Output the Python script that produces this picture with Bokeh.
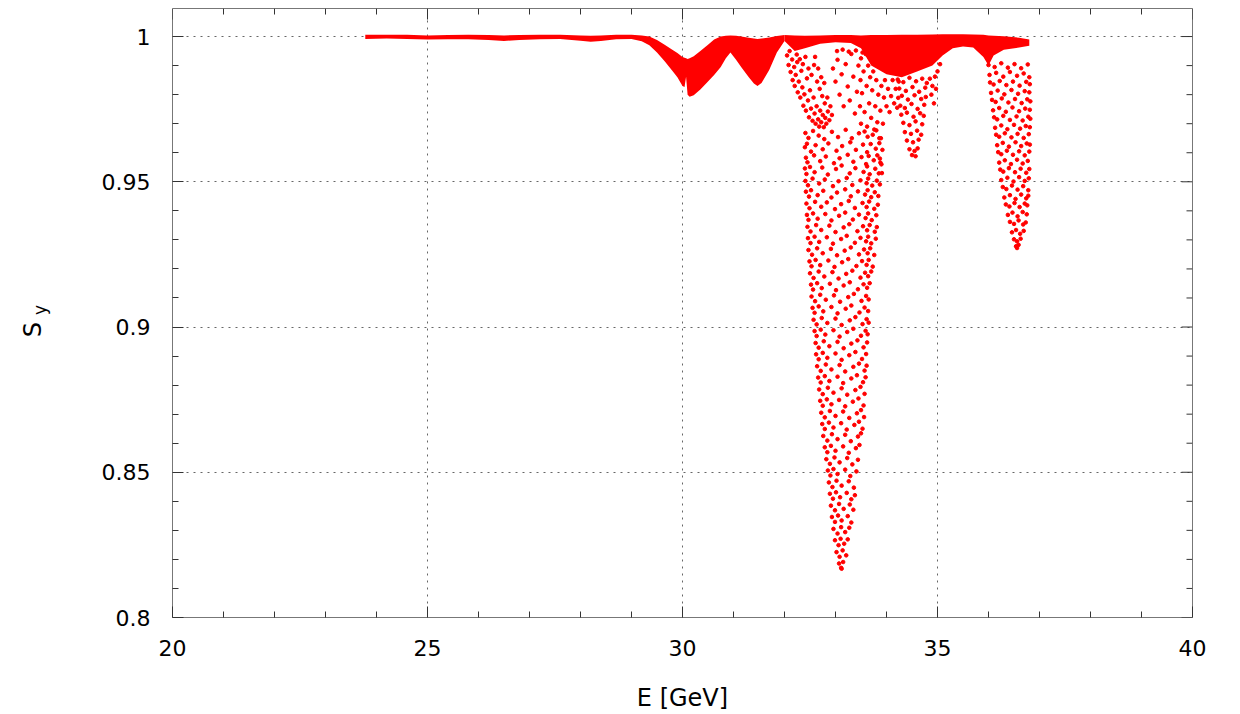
import math
from bokeh.plotting import figure
from bokeh.models import Range1d, FixedTicker, LinearAxis
from bokeh.embed import file_html
from bokeh.resources import INLINE

# ---------------- data ----------------
x_ticks = [20, 25, 30, 35, 40]
x_minor = [21, 22, 23, 24, 26, 27, 28, 29, 31, 32, 33, 34, 36, 37, 38, 39]
y_ticks = [0.8, 0.85, 0.9, 0.95, 1.0]
y_tick_labels = ["0.8", "0.85", "0.9", "0.95", "1"]
y_minor = [0.81, 0.82, 0.83, 0.84, 0.86, 0.87, 0.88, 0.89, 0.91, 0.92, 0.93, 0.94,
           0.96, 0.97, 0.98, 0.99]
x_title = "E [GeV]"
y_title_main, y_title_sub = "S", "y"

# densely filled band (upper / lower envelope), 23.8 - 32 GeV
band_E = [23.78, 24.2, 24.6, 25.0, 25.4, 25.8, 26.2, 26.5, 26.8, 27.2, 27.6, 28.0, 28.2,
          28.4, 28.7, 29.0, 29.2, 29.35, 29.5, 29.65, 29.8, 29.9, 30.0, 30.04, 30.07,
          30.1, 30.14, 30.22, 30.35, 30.5, 30.62, 30.75, 30.85, 30.94, 31.05, 31.15,
          31.3, 31.4, 31.47, 31.55, 31.7, 31.85, 32.0]
band_hi = [1.0006, 1.0006, 1.0006, 1.0004, 1.0005, 1.0006, 1.0005, 1.0004, 1.0005, 1.0006,
           1.0006, 1.0004, 1.0003, 1.0004, 1.0006, 1.0006, 1.0004, 1.0000, 0.9988, 0.9972,
           0.9955, 0.9943, 0.9930, 0.9927, 0.9925, 0.9923, 0.9925, 0.9932, 0.9950, 0.9972,
           0.9990, 1.0000, 1.0003, 1.0004, 1.0003, 1.0000, 0.9996, 0.9993, 0.9992, 0.9993,
           0.9997, 1.0002, 1.0005]
band_lo = [0.9992, 0.9993, 0.9992, 0.9990, 0.9991, 0.9991, 0.9988, 0.9985, 0.9988, 0.9991,
           0.9992, 0.9986, 0.9982, 0.9985, 0.9991, 0.9992, 0.9984, 0.9970, 0.9945, 0.9915,
           0.9882, 0.9860, 0.9830, 0.9826, 0.9862, 0.9800, 0.9793, 0.9798, 0.9818, 0.9845,
           0.9868, 0.9895, 0.9925, 0.9945, 0.9920, 0.9895, 0.9860, 0.9838, 0.9830, 0.9840,
           0.9885, 0.9945, 0.9985]

# densely filled band near S=1, 32 - 36.8 GeV
top_E = [32.0, 32.2, 32.4, 32.7, 33.0, 33.3, 33.5, 33.7, 34.0, 34.3, 34.6, 34.9, 35.1,
         35.3, 35.5, 35.7, 35.9, 36.0, 36.1, 36.3, 36.6, 36.8]
top_hi = [1.0005, 1.0004, 1.0003, 1.0004, 1.0005, 1.0005, 1.0004, 1.0005, 1.0005, 1.0006,
          1.0006, 1.0007, 1.0008, 1.0008, 1.0008, 1.0007, 1.0006, 1.0004, 1.0003, 1.0001,
          0.9996, 0.9990]
top_lo = [0.9985, 0.9950, 0.9960, 0.9975, 0.9980, 0.9978, 0.9960, 0.9900, 0.9870, 0.9860,
          0.9880, 0.9900, 0.9935, 0.9960, 0.9966, 0.9962, 0.9930, 0.9900, 0.9935, 0.9955,
          0.9962, 0.9968]

# scattered points: lobe at 32.0 - 32.9 GeV
lobe_pts = [(32.05, 0.9935), (32.08, 0.9902), (32.10, 0.9950), (32.12, 0.9878), (32.15, 0.9921),
            (32.16, 0.9850), (32.19, 0.9895), (32.20, 0.9830), (32.22, 0.9868), (32.25, 0.9912),
            (32.26, 0.9808), (32.28, 0.9845), (32.31, 0.9790), (32.33, 0.9882), (32.35, 0.9825),
            (32.37, 0.9762), (32.39, 0.9801), (32.42, 0.9745), (32.44, 0.9856), (32.46, 0.9780),
            (32.48, 0.9722), (32.50, 0.9815), (32.52, 0.9752), (32.55, 0.9710), (32.57, 0.9790),
            (32.59, 0.9735), (32.61, 0.9700), (32.63, 0.9760), (32.66, 0.9715), (32.68, 0.9690),
            (32.70, 0.9745), (32.72, 0.9705), (32.75, 0.9730), (32.77, 0.9688), (32.80, 0.9720),
            (32.82, 0.9700), (32.85, 0.9742), (32.88, 0.9712), (32.90, 0.9760), (32.93, 0.9730),
            (32.24, 0.9938), (32.30, 0.9922), (32.36, 0.9905), (32.41, 0.9930), (32.47, 0.9890),
            (32.53, 0.9868), (32.58, 0.9902), (32.64, 0.9845), (32.69, 0.9820), (32.74, 0.9795),
            (32.79, 0.9770), (32.84, 0.9790), (32.60, 0.9930), (32.66, 0.9890), (32.72, 0.9860),
            (32.78, 0.9840)]

# scattered points between the band and the dips, 32.9 - 35.1 GeV
mid_pts = [(32.95, 0.9890), (33.00, 0.9845), (33.04, 0.9920), (33.08, 0.9800), (33.12, 0.9870),
           (33.16, 0.9760), (33.20, 0.9905), (33.24, 0.9828), (33.28, 0.9780), (33.31, 0.9940),
           (33.35, 0.9862), (33.38, 0.9735), (33.42, 0.9810), (33.45, 0.9900), (33.48, 0.9760),
           (33.49, 0.9850), (33.50, 0.9700), (33.50, 0.9925), (33.52, 0.9805), (33.55, 0.9880),
           (33.57, 0.9740), (33.59, 0.9940), (33.61, 0.9830), (33.62, 0.9690), (33.64, 0.9900),
           (33.66, 0.9770), (33.68, 0.9860), (33.70, 0.9720), (33.72, 0.9815), (33.74, 0.9880),
           (33.76, 0.9680), (33.78, 0.9760), (33.80, 0.9850), (33.82, 0.9705), (33.84, 0.9800),
           (33.86, 0.9650), (33.88, 0.9745), (33.90, 0.9830), (33.92, 0.9610), (33.93, 0.9700),
           (33.95, 0.9790), (33.97, 0.9850), (34.00, 0.9760), (34.03, 0.9820), (34.06, 0.9740),
           (34.09, 0.9795), (34.12, 0.9850), (34.15, 0.9770), (34.18, 0.9820), (34.21, 0.9755),
           (34.24, 0.9845), (33.03, 0.9950), (33.14, 0.9955), (33.26, 0.9948), (33.40, 0.9952),
           (33.53, 0.9945), (33.66, 0.9930), (33.90, 0.9560), (33.91, 0.9530), (33.87, 0.9580),
           (34.85, 0.9855), (34.90, 0.9830), (34.95, 0.9862), (35.00, 0.9880), (34.88, 0.9800),
           (34.93, 0.9770), (35.05, 0.9905), (34.97, 0.9820)]

# scattered points: deep dip at 32.4 - 33.9 GeV
dip33_pts = [
    (32.41, 0.9668), (32.47, 0.9651), (32.56, 0.9675), (32.67, 0.9659), (32.78, 0.9647), (32.93, 0.9672), (33.05, 0.9654), (33.20, 0.9679), (33.32, 0.9650), (33.46, 0.9667), (33.57, 0.9673), (33.63, 0.9655), (33.73, 0.9662), (33.80, 0.9677), (33.89, 0.9650),
    (32.40, 0.9619), (32.44, 0.9631), (32.52, 0.9604), (32.61, 0.9626), (32.75, 0.9612), (32.86, 0.9632), (33.02, 0.9607), (33.13, 0.9623), (33.29, 0.9636), (33.40, 0.9610), (33.54, 0.9628), (33.62, 0.9602), (33.69, 0.9630), (33.79, 0.9614), (33.86, 0.9633),
    (32.42, 0.9583), (32.45, 0.9567), (32.58, 0.9591), (32.70, 0.9571), (32.81, 0.9587), (32.97, 0.9564), (33.08, 0.9581), (33.24, 0.9593), (33.35, 0.9569), (33.51, 0.9585), (33.60, 0.9561), (33.65, 0.9589), (33.75, 0.9574), (33.82, 0.9591), (33.88, 0.9566),
    (32.40, 0.9546), (32.43, 0.9527), (32.50, 0.9551), (32.59, 0.9533), (32.74, 0.9549), (32.85, 0.9525), (33.01, 0.9544), (33.12, 0.9556), (33.28, 0.9529), (33.39, 0.9547), (33.55, 0.9534), (33.62, 0.9553), (33.67, 0.9526), (33.78, 0.9545), (33.85, 0.9529),
    (32.41, 0.9503), (32.46, 0.9488), (32.55, 0.9511), (32.68, 0.9494), (32.79, 0.9508), (32.95, 0.9485), (33.06, 0.9502), (33.22, 0.9513), (33.33, 0.9489), (33.49, 0.9505), (33.61, 0.9495), (33.64, 0.9511), (33.72, 0.9487), (33.81, 0.9504), (33.87, 0.9491),
    (32.42, 0.9466), (32.48, 0.9449), (32.52, 0.9471), (32.65, 0.9454), (32.76, 0.9469), (32.92, 0.9446), (33.03, 0.9463), (33.19, 0.9474), (33.30, 0.9450), (33.44, 0.9467), (33.58, 0.9456), (33.63, 0.9471), (33.70, 0.9447), (33.77, 0.9464), (33.84, 0.9451),
    (32.43, 0.9425), (32.49, 0.9409), (32.60, 0.9431), (32.72, 0.9414), (32.83, 0.9429), (32.99, 0.9406), (33.11, 0.9423), (33.26, 0.9434), (33.38, 0.9410), (33.53, 0.9427), (33.61, 0.9413), (33.66, 0.9432), (33.76, 0.9407), (33.83, 0.9421),
    (32.44, 0.9386), (32.47, 0.9369), (32.56, 0.9391), (32.65, 0.9373), (32.80, 0.9389), (32.92, 0.9367), (33.07, 0.9383), (33.19, 0.9394), (33.34, 0.9370), (33.46, 0.9387), (33.59, 0.9375), (33.64, 0.9391), (33.71, 0.9368), (33.80, 0.9385),
    (32.45, 0.9345), (32.51, 0.9329), (32.62, 0.9351), (32.72, 0.9334), (32.88, 0.9349), (33.00, 0.9327), (33.16, 0.9343), (33.27, 0.9354), (33.43, 0.9330), (33.54, 0.9347), (33.62, 0.9333), (33.67, 0.9351), (33.77, 0.9328), (33.81, 0.9344),
    (32.46, 0.9306), (32.51, 0.9289), (32.59, 0.9311), (32.68, 0.9293), (32.83, 0.9309), (32.95, 0.9287), (33.11, 0.9303), (33.22, 0.9314), (33.38, 0.9290), (33.49, 0.9307), (33.60, 0.9295), (33.64, 0.9311), (33.70, 0.9288), (33.79, 0.9304),
    (32.47, 0.9265), (32.54, 0.9249), (32.64, 0.9271), (32.75, 0.9254), (32.91, 0.9269), (33.03, 0.9247), (33.18, 0.9263), (33.30, 0.9274), (33.46, 0.9250), (33.56, 0.9267), (33.63, 0.9254), (33.68, 0.9271), (33.76, 0.9248),
    (32.49, 0.9226), (32.53, 0.9209), (32.61, 0.9231), (32.70, 0.9213), (32.86, 0.9229), (32.98, 0.9207), (33.13, 0.9223), (33.25, 0.9234), (33.41, 0.9210), (33.52, 0.9227), (33.61, 0.9214), (33.65, 0.9231), (33.73, 0.9208),
    (32.50, 0.9185), (32.57, 0.9169), (32.67, 0.9191), (32.78, 0.9174), (32.94, 0.9189), (33.06, 0.9167), (33.21, 0.9183), (33.33, 0.9194), (33.49, 0.9170), (33.58, 0.9187), (33.64, 0.9175), (33.70, 0.9191),
    (32.52, 0.9146), (32.56, 0.9129), (32.64, 0.9151), (32.73, 0.9134), (32.89, 0.9149), (33.01, 0.9127), (33.16, 0.9143), (33.28, 0.9154), (33.44, 0.9130), (33.55, 0.9147), (33.62, 0.9135), (33.67, 0.9151),
    (32.53, 0.9105), (32.60, 0.9089), (32.70, 0.9111), (32.81, 0.9094), (32.97, 0.9109), (33.09, 0.9087), (33.25, 0.9103), (33.36, 0.9114), (33.51, 0.9090), (33.60, 0.9107), (33.65, 0.9095),
    (32.55, 0.9066), (32.59, 0.9049), (32.67, 0.9071), (32.76, 0.9054), (32.92, 0.9069), (33.04, 0.9047), (33.20, 0.9063), (33.31, 0.9074), (33.47, 0.9050), (33.57, 0.9067), (33.64, 0.9055),
    (32.57, 0.9025), (32.63, 0.9009), (32.73, 0.9031), (32.84, 0.9014), (33.00, 0.9029), (33.12, 0.9007), (33.28, 0.9023), (33.39, 0.9034), (33.53, 0.9010), (33.61, 0.9027), (33.65, 0.9015),
    (32.59, 0.8986), (32.63, 0.8969), (32.71, 0.8991), (32.80, 0.8974), (32.96, 0.8989), (33.08, 0.8967), (33.23, 0.8983), (33.35, 0.8994), (33.50, 0.8970), (33.59, 0.8987), (33.63, 0.8975),
    (32.61, 0.8945), (32.67, 0.8929), (32.77, 0.8951), (32.88, 0.8934), (33.04, 0.8949), (33.16, 0.8927), (33.31, 0.8943), (33.43, 0.8954), (33.55, 0.8930), (33.62, 0.8947),
    (32.62, 0.8906), (32.67, 0.8889), (32.75, 0.8911), (32.84, 0.8894), (33.00, 0.8909), (33.12, 0.8887), (33.27, 0.8903), (33.39, 0.8914), (33.52, 0.8890), (33.60, 0.8907),
    (32.64, 0.8865), (32.71, 0.8849), (32.81, 0.8871), (32.92, 0.8854), (33.08, 0.8869), (33.19, 0.8847), (33.35, 0.8863), (33.46, 0.8874), (33.57, 0.8850), (33.61, 0.8867),
    (32.66, 0.8826), (32.71, 0.8809), (32.79, 0.8831), (32.88, 0.8814), (33.04, 0.8829), (33.15, 0.8807), (33.31, 0.8823), (33.42, 0.8834), (33.54, 0.8810), (33.59, 0.8827),
    (32.68, 0.8785), (32.75, 0.8769), (32.85, 0.8791), (32.96, 0.8774), (33.12, 0.8789), (33.23, 0.8767), (33.39, 0.8783), (33.49, 0.8794), (33.57, 0.8770),
    (32.70, 0.8746), (32.75, 0.8729), (32.83, 0.8751), (32.92, 0.8734), (33.07, 0.8749), (33.19, 0.8727), (33.34, 0.8743), (33.45, 0.8754), (33.55, 0.8730),
    (32.72, 0.8705), (32.79, 0.8689), (32.89, 0.8711), (33.00, 0.8694), (33.15, 0.8709), (33.27, 0.8687), (33.42, 0.8703), (33.50, 0.8714), (33.56, 0.8690),
    (32.74, 0.8666), (32.79, 0.8649), (32.87, 0.8671), (32.96, 0.8654), (33.11, 0.8669), (33.22, 0.8647), (33.37, 0.8663), (33.46, 0.8674), (33.53, 0.8650),
    (32.76, 0.8625), (32.84, 0.8609), (32.93, 0.8631), (33.04, 0.8614), (33.19, 0.8629), (33.30, 0.8607), (33.44, 0.8623), (33.50, 0.8634),
    (32.79, 0.8586), (32.84, 0.8569), (32.91, 0.8591), (33.00, 0.8574), (33.15, 0.8589), (33.26, 0.8567), (33.40, 0.8583), (33.47, 0.8594),
    (32.82, 0.8545), (32.89, 0.8529), (32.98, 0.8551), (33.08, 0.8534), (33.23, 0.8549), (33.33, 0.8527), (33.44, 0.8543),
    (32.85, 0.8506), (32.90, 0.8489), (32.96, 0.8511), (33.04, 0.8494), (33.19, 0.8509), (33.29, 0.8487), (33.41, 0.8503),
    (32.87, 0.8465), (32.94, 0.8449), (33.02, 0.8471), (33.12, 0.8454), (33.26, 0.8469), (33.36, 0.8447),
    (32.89, 0.8426), (32.95, 0.8409), (33.01, 0.8431), (33.09, 0.8414), (33.22, 0.8429), (33.31, 0.8407), (33.38, 0.8421),
    (32.91, 0.8385), (32.99, 0.8369), (33.07, 0.8391), (33.16, 0.8374), (33.28, 0.8389), (33.35, 0.8371),
    (32.93, 0.8346), (32.99, 0.8329), (33.05, 0.8351), (33.12, 0.8334), (33.24, 0.8349), (33.31, 0.8327),
    (32.96, 0.8305), (33.04, 0.8289), (33.11, 0.8311), (33.19, 0.8294), (33.27, 0.8309),
    (32.99, 0.8266), (33.06, 0.8249), (33.10, 0.8271), (33.17, 0.8254), (33.24, 0.8269),
    (33.02, 0.8225), (33.08, 0.8209), (33.14, 0.8231), (33.21, 0.8214),
    (33.07, 0.8186), (33.11, 0.8171), (33.15, 0.8191), (33.12, 0.8168)]

# scattered points: dip at 34.2 - 34.8 GeV
dip345_pts = [(34.22, 0.9852), (34.33, 0.9843), (34.45, 0.9858), (34.58, 0.9846), (34.70, 0.9855), (34.79, 0.9840),
              (34.25, 0.9821), (34.38, 0.9813), (34.51, 0.9826), (34.64, 0.9810), (34.76, 0.9824),
              (34.23, 0.9789), (34.30, 0.9796), (34.42, 0.9783), (34.55, 0.9798), (34.68, 0.9785), (34.77, 0.9792),
              (34.27, 0.9762), (34.36, 0.9754), (34.49, 0.9768), (34.61, 0.9751), (34.74, 0.9765),
              (34.29, 0.9731), (34.40, 0.9738), (34.53, 0.9724), (34.66, 0.9736), (34.73, 0.9727),
              (34.33, 0.9703), (34.45, 0.9695), (34.57, 0.9708), (34.70, 0.9698),
              (34.36, 0.9671), (34.48, 0.9665), (34.60, 0.9676), (34.68, 0.9662),
              (34.40, 0.9642), (34.52, 0.9636), (34.63, 0.9645),
              (34.45, 0.9612), (34.55, 0.9606), (34.61, 0.9615),
              (34.50, 0.9592), (34.57, 0.9588)]

# scattered points: dip at 36.0 - 36.8 GeV
dip365_pts = [
    (36.00, 0.9902), (36.12, 0.9895), (36.25, 0.9908), (36.38, 0.9893), (36.51, 0.9905), (36.64, 0.9891), (36.77, 0.9904),
    (36.02, 0.9868), (36.15, 0.9875), (36.29, 0.9862), (36.42, 0.9878), (36.56, 0.9865), (36.69, 0.9873), (36.80, 0.9860),
    (36.03, 0.9842), (36.10, 0.9835), (36.22, 0.9847), (36.35, 0.9833), (36.48, 0.9845), (36.61, 0.9831), (36.74, 0.9844), (36.81, 0.9836),
    (36.05, 0.9806), (36.18, 0.9814), (36.31, 0.9801), (36.45, 0.9816), (36.58, 0.9803), (36.71, 0.9812), (36.80, 0.9808),
    (36.07, 0.9782), (36.14, 0.9775), (36.26, 0.9787), (36.39, 0.9773), (36.52, 0.9785), (36.65, 0.9771), (36.76, 0.9784), (36.82, 0.9777),
    (36.09, 0.9746), (36.21, 0.9754), (36.34, 0.9741), (36.47, 0.9756), (36.60, 0.9743), (36.72, 0.9752), (36.81, 0.9748),
    (36.11, 0.9722), (36.17, 0.9715), (36.29, 0.9727), (36.42, 0.9713), (36.55, 0.9725), (36.67, 0.9711), (36.78, 0.9724), (36.82, 0.9717),
    (36.13, 0.9686), (36.25, 0.9694), (36.37, 0.9681), (36.50, 0.9696), (36.62, 0.9683), (36.73, 0.9692), (36.81, 0.9688),
    (36.15, 0.9662), (36.21, 0.9655), (36.32, 0.9667), (36.45, 0.9653), (36.57, 0.9665), (36.69, 0.9651), (36.79, 0.9664),
    (36.17, 0.9626), (36.28, 0.9634), (36.40, 0.9621), (36.53, 0.9636), (36.64, 0.9623), (36.75, 0.9632), (36.81, 0.9628),
    (36.19, 0.9602), (36.25, 0.9595), (36.36, 0.9607), (36.48, 0.9593), (36.60, 0.9605), (36.71, 0.9591), (36.80, 0.9604),
    (36.21, 0.9566), (36.32, 0.9574), (36.44, 0.9561), (36.56, 0.9576), (36.67, 0.9563), (36.77, 0.9572),
    (36.23, 0.9542), (36.29, 0.9535), (36.40, 0.9547), (36.52, 0.9533), (36.63, 0.9545), (36.74, 0.9531), (36.80, 0.9544),
    (36.25, 0.9506), (36.37, 0.9514), (36.49, 0.9501), (36.60, 0.9516), (36.71, 0.9503), (36.79, 0.9512),
    (36.28, 0.9482), (36.35, 0.9475), (36.46, 0.9487), (36.57, 0.9473), (36.68, 0.9485), (36.78, 0.9471),
    (36.31, 0.9446), (36.42, 0.9454), (36.53, 0.9441), (36.64, 0.9456), (36.74, 0.9443), (36.78, 0.9452),
    (36.34, 0.9422), (36.41, 0.9415), (36.51, 0.9427), (36.61, 0.9413), (36.71, 0.9425), (36.76, 0.9419),
    (36.38, 0.9386), (36.47, 0.9394), (36.57, 0.9381), (36.67, 0.9396), (36.75, 0.9388),
    (36.42, 0.9362), (36.50, 0.9355), (36.59, 0.9367), (36.68, 0.9353), (36.73, 0.9360),
    (36.46, 0.9326), (36.54, 0.9334), (36.62, 0.9321), (36.69, 0.9331),
    (36.50, 0.9302), (36.56, 0.9295), (36.63, 0.9304),
    (36.54, 0.9278), (36.59, 0.9283), (36.56, 0.9272)]

# ---------------- figure ----------------
RED = "#ff0000"
FONT = "DejaVu Sans"
TICK = "#333333"
X0, X1 = 20, 40
Y0, Y1 = 0.8, 1.00966

p = figure(width=1240, height=714, output_backend="svg", toolbar_location=None,
           x_range=Range1d(X0, X1), y_range=Range1d(Y0, Y1),
           min_border_left=172, min_border_right=48, min_border_top=8, min_border_bottom=97)
p.background_fill_color = "white"
p.border_fill_color = "white"
p.outline_line_color = "#777777"
p.outline_line_width = 1

xt = FixedTicker(ticks=x_ticks, minor_ticks=x_minor)
yt = FixedTicker(ticks=y_ticks, minor_ticks=y_minor)

for ax in (p.xaxis[0], p.yaxis[0]):
    ax.axis_line_color = None
    ax.major_tick_in = 11
    ax.major_tick_out = 0
    ax.minor_tick_in = 6
    ax.minor_tick_out = 0
    ax.major_tick_line_color = TICK
    ax.minor_tick_line_color = TICK
    ax.major_label_text_font = FONT
    ax.major_label_text_font_size = "22px"
    ax.major_label_text_color = "black"
    ax.major_label_standoff = 22

p.xaxis[0].ticker = xt
p.yaxis[0].ticker = yt
p.yaxis[0].major_label_overrides = {v: s for v, s in zip(y_ticks, y_tick_labels)}
p.xaxis[0].axis_label = x_title
p.xaxis[0].axis_label_text_font = FONT
p.xaxis[0].axis_label_text_font_size = "24px"
p.xaxis[0].axis_label_text_font_style = "normal"
p.xaxis[0].axis_label_text_color = "black"
p.xaxis[0].axis_label_standoff = 25

for g, t in ((p.xgrid[0], xt), (p.ygrid[0], yt)):
    g.ticker = t
    g.grid_line_color = "#666666"
    g.grid_line_dash = "2 5"
    g.grid_line_width = 1

# mirrored (inward) ticks on the top and right frame edges
px_x = (X1 - X0) / 1020.0      # data units per pixel, x
px_y = (Y1 - Y0) / 609.0       # data units per pixel, y
for ticks, ln in ((x_ticks, 11), (x_minor, 6)):
    p.segment(x0=ticks, x1=ticks, y0=[Y1] * len(ticks), y1=[Y1 - ln * px_y] * len(ticks),
              line_color=TICK, line_width=1)
for ticks, ln in ((y_ticks, 11), (y_minor, 6)):
    p.segment(x0=[X1] * len(ticks), x1=[X1 - ln * px_x] * len(ticks), y0=ticks, y1=ticks,
              line_color=TICK, line_width=1)

# data
p.varea(x=band_E, y1=band_lo, y2=band_hi, fill_color=RED)
p.varea(x=top_E, y1=top_lo, y2=top_hi, fill_color=RED)
for pts in (lobe_pts, mid_pts, dip33_pts, dip345_pts, dip365_pts):
    xs = [a for a, b in pts]
    ys = [b for a, b in pts]
    p.scatter(xs, ys, size=3.6, color=RED, marker="circle")


# y-axis title "S" with subscript "y": drawn as rotated labels of two bare axes
def title_axis(text, at, size, standoff):
    ax = LinearAxis(ticker=FixedTicker(ticks=[at], minor_ticks=[]))
    ax.major_label_overrides = {at: text}
    ax.major_label_orientation = math.pi / 2
    ax.major_label_text_font = FONT
    ax.major_label_text_font_size = size
    ax.major_label_text_color = "black"
    ax.major_label_standoff = standoff
    ax.axis_line_color = None
    ax.major_tick_line_color = None
    ax.minor_tick_line_color = None
    ax.major_tick_in = 0
    ax.major_tick_out = 0
    return ax


p.add_layout(title_axis(y_title_sub, 0.9076, "17px", 58), "left")
p.add_layout(title_axis(y_title_main, 0.9017, "24px", -16), "left")

open("out.html", "w").write(file_html(p, INLINE))
